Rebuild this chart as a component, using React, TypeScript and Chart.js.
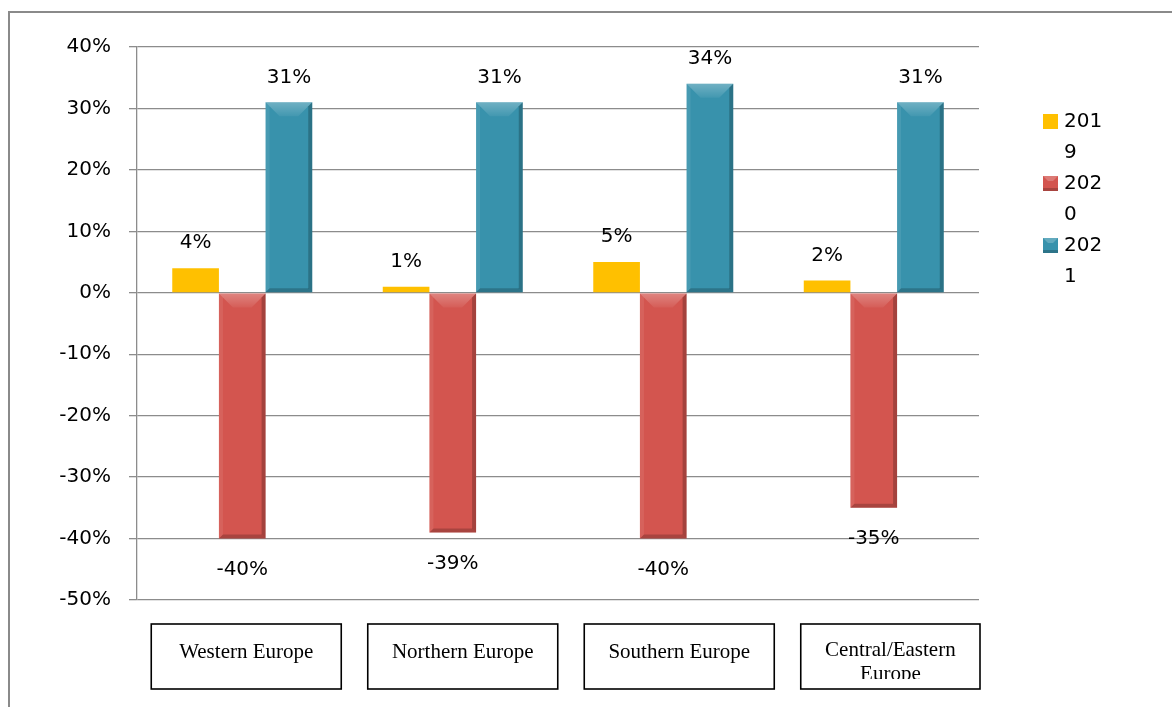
import React, { useEffect, useRef } from 'react';
import { Chart, registerables } from 'chart.js';

Chart.register(...registerables);

// ---- data ----
const categories = ['Western Europe', 'Northern Europe', 'Southern Europe', 'Central/Eastern Europe'];
const categoryLines = [['Western Europe'], ['Northern Europe'], ['Southern Europe'], ['Central/Eastern', 'Europe']];
const seriesNames = ['2019', '2020', '2021'];
const values2019 = [4, 1, 5, 2];
const values2020 = [-40, -39, -40, -35];
const values2021 = [31, 31, 34, 31];
const yMin = -50;
const yMax = 40;
const yStep = 10;

const seriesColors = ['#FFC000', '#D3554F', '#3892AC'];
const FONT = '"DejaVu Sans", sans-serif';
const SERIF = '"Liberation Serif", "Times New Roman", serif';

const framePlugin = {
  id: 'frame',
  beforeDraw(chart: any) {
    const { ctx, width, height } = chart;
    ctx.save();
    ctx.fillStyle = '#ffffff';
    ctx.fillRect(0, 0, width, height);
    ctx.strokeStyle = '#8a8a8a';
    ctx.lineWidth = 2;
    ctx.beginPath();
    ctx.moveTo(width, 12);
    ctx.lineTo(9, 12);
    ctx.lineTo(9, height);
    ctx.stroke();
    ctx.restore();
  },
};

const bevelPlugin = {
  id: 'bevel',
  afterDatasetsDraw(chart: any) {
    const { ctx } = chart;
    ctx.save();
    chart.data.datasets.forEach((ds: any, di: number) => {
      if (di === 0) return;
      const meta = chart.getDatasetMeta(di);
      meta.data.forEach((bar: any) => {
        const left = bar.x - bar.width / 2;
        const right = bar.x + bar.width / 2;
        const top = Math.min(bar.y, bar.base);
        const bottom = Math.max(bar.y, bar.base);
        const h = bottom - top;
        const bt = Math.min(14, h / 2);
        const bs = Math.min(4, h / 2);
        // top bevel lighter (pyramid-like)
        const gt = ctx.createLinearGradient(0, top, 0, top + bt);
        gt.addColorStop(0, 'rgba(255,255,255,0.28)');
        gt.addColorStop(1, 'rgba(255,255,255,0.05)');
        ctx.fillStyle = gt;
        ctx.beginPath();
        ctx.moveTo(left, top);
        ctx.lineTo(right, top);
        ctx.lineTo(right - bt, top + bt);
        ctx.lineTo(left + bt, top + bt);
        ctx.closePath();
        ctx.fill();
        // left edge slightly lighter
        ctx.fillStyle = 'rgba(255,255,255,0.08)';
        ctx.beginPath();
        ctx.moveTo(left, top);
        ctx.lineTo(left + bs, top + bs);
        ctx.lineTo(left + bs, bottom - bs);
        ctx.lineTo(left, bottom);
        ctx.closePath();
        ctx.fill();
        // right edge darker
        ctx.fillStyle = 'rgba(0,0,0,0.22)';
        ctx.beginPath();
        ctx.moveTo(right, top);
        ctx.lineTo(right - bs, top + bs);
        ctx.lineTo(right - bs, bottom - bs);
        ctx.lineTo(right, bottom);
        ctx.closePath();
        ctx.fill();
        // bottom bevel darker
        ctx.fillStyle = 'rgba(0,0,0,0.2)';
        ctx.beginPath();
        ctx.moveTo(left, bottom);
        ctx.lineTo(right, bottom);
        ctx.lineTo(right - bs, bottom - bs);
        ctx.lineTo(left + bs, bottom - bs);
        ctx.closePath();
        ctx.fill();
      });
    });
    ctx.restore();
  },
};

const valueLabelPlugin = {
  id: 'valueLabels',
  afterDatasetsDraw(chart: any) {
    const { ctx } = chart;
    ctx.save();
    ctx.font = `20px ${FONT}`;
    ctx.fillStyle = '#000';
    ctx.textAlign = 'center';
    ctx.textBaseline = 'middle';
    chart.data.datasets.forEach((ds: any, di: number) => {
      const meta = chart.getDatasetMeta(di);
      meta.data.forEach((bar: any, i: number) => {
        const v = ds.data[i];
        const y = v >= 0 ? bar.y - 25 : bar.y + 31;
        ctx.fillText(`${v}%`, bar.x, y);
      });
    });
    ctx.restore();
  },
};

const categoryBoxPlugin = {
  id: 'categoryBoxes',
  afterDraw(chart: any) {
    const { ctx, chartArea } = chart;
    const xs = chart.scales.x;
    ctx.save();
    categoryLines.forEach((lines, i) => {
      const c = xs.getPixelForValue(i);
      const left = c - 91 + 6 * i;
      const right = Math.min(left + 190, chartArea.right + 1);
      const top = chartArea.bottom + 24;
      const bottom = chartArea.bottom + 89;
      ctx.strokeStyle = '#000';
      ctx.lineWidth = 1.6;
      ctx.strokeRect(left, top, right - left, bottom - top);
      ctx.save();
      ctx.beginPath();
      ctx.rect(left, top, right - left, bottom - top - 10);
      ctx.clip();
      ctx.font = `21px ${SERIF}`;
      ctx.fillStyle = '#000';
      ctx.textAlign = 'center';
      ctx.textBaseline = 'middle';
      const mid = (left + right) / 2;
      const lh = 24;
      const y0 = lines.length === 1 ? top + 28 : top + 26;
      lines.forEach((t, k) => ctx.fillText(t, mid, y0 + k * lh));
      ctx.restore();
    });
    ctx.restore();
  },
};

const legendPlugin = {
  id: 'customLegend',
  afterDraw(chart: any) {
    const { ctx, chartArea } = chart;
    ctx.save();
    const x0 = chartArea.right + 64;
    let y = 122;
    chart.data.datasets.forEach((ds: any, di: number) => {
      ctx.fillStyle = seriesColors[di];
      ctx.fillRect(x0, y - 8, 15, 15);
      if (di > 0) {
        ctx.fillStyle = 'rgba(255,255,255,0.22)';
        ctx.beginPath();
        ctx.moveTo(x0, y - 8);
        ctx.lineTo(x0 + 15, y - 8);
        ctx.lineTo(x0 + 10, y - 3);
        ctx.lineTo(x0 + 5, y - 3);
        ctx.closePath();
        ctx.fill();
        ctx.fillStyle = 'rgba(0,0,0,0.2)';
        ctx.fillRect(x0, y + 4, 15, 3);
      }
      ctx.fillStyle = '#000';
      ctx.font = `20px ${FONT}`;
      ctx.textAlign = 'left';
      ctx.textBaseline = 'middle';
      const label = String(ds.label);
      ctx.fillText(label.slice(0, 3), x0 + 21, y);
      ctx.fillText(label.slice(3), x0 + 21, y + 31);
      y += 62;
    });
    ctx.restore();
  },
};

export default function App() {
  const ref = useRef<HTMLCanvasElement>(null);
  useEffect(() => {
    if (!ref.current) return;
    const chart = new Chart(ref.current, {
      type: 'bar',
      data: {
        labels: categories,
        datasets: [values2019, values2020, values2021].map((d, i) => ({
          label: seriesNames[i],
          data: d,
          backgroundColor: seriesColors[i],
          borderWidth: 0,
          categoryPercentage: 0.665,
          barPercentage: 1.0,
        })),
      },
      options: {
        responsive: false,
        animation: false,
        layout: { padding: { left: 0, right: 193, top: 47, bottom: 0 } },
        plugins: {
          legend: { display: false },
          tooltip: { enabled: false },
          title: { display: false },
        },
        scales: {
          x: {
            ticks: { display: false },
            grid: { display: false },
            border: { display: false },
            afterFit(scale: any) {
              scale.height = 107;
            },
          },
          y: {
            min: yMin,
            max: yMax,
            ticks: {
              stepSize: yStep,
              color: '#000',
              padding: 18,
              font: { family: FONT, size: 20 },
              callback: (v: any) => `${v}%`,
            },
            grid: { color: '#8c8c8c', lineWidth: 1.3, tickLength: 8 },
            border: { display: true, color: '#8c8c8c', width: 1.3 },
            afterFit(scale: any) {
              scale.width = 137;
            },
          },
        },
      },
      plugins: [framePlugin, bevelPlugin, valueLabelPlugin, categoryBoxPlugin, legendPlugin],
    });
    return () => chart.destroy();
  }, []);
  return (
    <canvas
      ref={ref}
      width={1172}
      height={707}
      style={{ position: 'absolute', left: 0, top: 0, width: 1172, height: 707 }}
    />
  );
}
